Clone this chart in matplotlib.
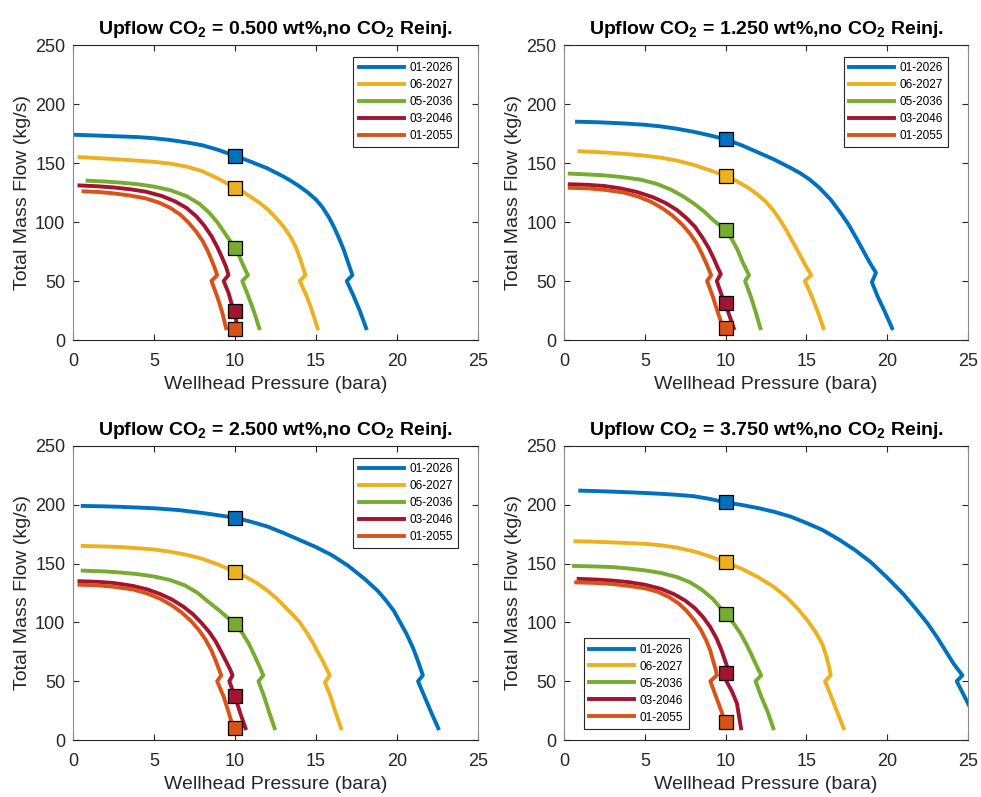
import matplotlib.pyplot as plt
import numpy as np

plt.rcParams["font.family"] = ["Liberation Sans", "DejaVu Sans"]
plt.rcParams["mathtext.fontset"] = "custom"
plt.rcParams["mathtext.rm"] = "Liberation Sans"
plt.rcParams["mathtext.bf"] = "Liberation Sans:bold"

dates = ["01-2026", "06-2027", "05-2036", "03-2046", "01-2055"]
colors = ["#0072BD", "#EDB120", "#77AC30", "#A2142F", "#D95319"]
co2_levels = ["0.500", "1.250", "2.500", "3.750"]

# deliverability curves: (wellhead pressure bara, total mass flow kg/s)
curves_0500 = [
    [(0, 174), (2, 173), (4, 172), (5, 171), (6, 169.5), (7, 167.5), (8, 165), (9, 161),
     (10, 156), (11, 151), (12, 145.5), (12.5, 142), (13, 138.5), (13.5, 134.5), (14, 130),
     (14.5, 125), (15, 119), (15.4, 112.5), (15.8, 104), (16.1, 96), (16.4, 87), (16.7, 77),
     (16.95, 67), (17.25, 55), (16.9, 50), (17.3, 38), (17.7, 25), (18.1, 10)],
    [(0.4, 155), (2, 153.8), (4, 152), (5, 151), (6, 149.5), (7, 147), (8, 143), (9, 136.5),
     (10, 129), (10.5, 125.5), (11, 121), (11.5, 116.5), (12, 111), (12.5, 104), (13, 96),
     (13.4, 88), (13.75, 79), (14.05, 68), (14.35, 55), (14.0, 50), (14.4, 38), (14.75, 25),
     (15.1, 10)],
    [(0.9, 135), (2, 134.3), (3, 133.3), (4, 132), (5, 130), (6, 127), (7, 122), (7.8, 115.5),
     (8.4, 108), (8.9, 100), (9.3, 92), (9.65, 85), (10, 78), (10.3, 70), (10.55, 62),
     (10.8, 55), (10.45, 50), (10.8, 38), (11.15, 25), (11.5, 10)],
    [(0.4, 131), (1.5, 130.3), (2.5, 129.3), (3.5, 127.8), (4.5, 125.7), (5.5, 122),
     (6.3, 117.5), (7, 112), (7.6, 105), (8.1, 97), (8.55, 88), (8.9, 79), (9.2, 70),
     (9.45, 62), (9.6, 55), (9.3, 50), (9.6, 40), (9.85, 28), (10.2, 10)],
    [(0.65, 126), (1.5, 125.5), (2.5, 124.3), (3.5, 122.5), (4.5, 120), (5.3, 116.5), (6, 112),
     (6.6, 106.5), (7.1, 100), (7.6, 92), (8, 84), (8.3, 76), (8.55, 68), (8.75, 61),
     (8.9, 55), (8.55, 50), (8.9, 37), (9.2, 24), (9.45, 10)],
]
curves_1250 = [
    [(0.8, 185), (2, 184.6), (3, 184), (4, 183.3), (5, 182.4), (6, 181), (7, 179), (8, 176.5),
     (9, 173.5), (10, 170), (11, 165), (12, 159), (13, 153), (14, 146), (14.6, 141.5),
     (15.2, 136), (15.8, 129), (16.5, 119), (17.1, 108), (17.6, 98), (18.1, 86), (18.5, 76),
     (18.9, 66), (19.3, 57), (19.05, 49), (19.4, 37), (19.85, 24), (20.3, 10)],
    [(0.95, 160), (2, 159.3), (3, 158.5), (4, 157.5), (5, 156.2), (6, 154.5), (7, 152),
     (8, 148.5), (9, 144), (10, 139), (10.7, 134.5), (11.4, 129), (12, 123), (12.5, 117),
     (13, 109), (13.4, 101), (13.8, 92), (14.2, 82), (14.6, 72), (14.95, 63), (15.3, 55),
     (14.9, 50), (15.3, 38), (15.7, 24), (16.05, 10)],
    [(0.35, 141), (1.5, 140.3), (2.5, 139.5), (3.5, 138.2), (4.7, 136), (5.7, 132.5),
     (6.6, 127.5), (7.4, 121.5), (8.1, 115), (8.7, 108.5), (9.2, 102), (9.6, 97.5), (10, 93),
     (10.4, 85), (10.75, 76), (11.05, 66), (11.3, 59), (11.45, 55), (11.2, 50), (11.55, 37),
     (11.85, 24), (12.15, 10)],
    [(0.35, 132), (1.5, 131.5), (2.5, 130.5), (3.5, 128.5), (4.5, 125.5), (5.5, 121),
     (6.3, 116), (7, 110), (7.6, 103), (8.1, 96), (8.55, 87), (8.95, 78), (9.3, 68),
     (9.55, 60), (9.7, 56), (9.45, 50), (9.75, 38), (10.05, 28), (10.25, 20), (10.5, 10)],
    [(0.35, 129), (1.5, 128.5), (2.5, 127.3), (3.7, 125), (4.6, 121.5), (5.4, 117),
     (6.1, 111.5), (6.7, 105.5), (7.3, 98), (7.8, 90), (8.2, 82), (8.5, 74), (8.8, 65),
     (9.1, 55), (8.85, 50), (9.2, 37), (9.5, 24), (9.85, 10)],
]
curves_2500 = [
    [(0.6, 199), (2, 198.6), (3, 198.2), (4, 197.6), (5, 197), (6.5, 195.5), (8, 193),
     (9, 191), (10, 189), (11, 185.5), (12, 181.5), (13, 176), (14, 170), (15, 164), (16, 157),
     (17, 148), (18, 137), (18.8, 127), (19.3, 119), (19.8, 110), (20.2, 100), (20.6, 90),
     (21.0, 78), (21.3, 67), (21.6, 55), (21.3, 50), (21.7, 37), (22.1, 24), (22.55, 10)],
    [(0.6, 165), (2, 164.5), (3, 164), (4, 163), (5, 162), (6, 160), (7, 157.5), (8, 154),
     (9, 149), (10, 143), (10.7, 138.5), (11.4, 133), (12, 127), (12.6, 120), (13.1, 113),
     (13.6, 106), (14, 100), (14.4, 92), (14.8, 83), (15.15, 74), (15.5, 65), (15.85, 55),
     (15.55, 49), (15.9, 37), (16.2, 24), (16.55, 10)],
    [(0.6, 144), (2, 143.3), (3, 142.3), (4, 141), (5, 139), (6, 136), (6.9, 131.5),
     (7.7, 125), (8.4, 117), (9, 110.5), (9.5, 104.5), (10, 99), (10.45, 91), (10.85, 82),
     (11.2, 72), (11.5, 63), (11.75, 55), (11.45, 50), (11.8, 37), (12.1, 24), (12.45, 10)],
    [(0.4, 135), (1.5, 134.5), (2.5, 133.5), (3.7, 131), (4.6, 128), (5.4, 124), (6.1, 119.5),
     (6.8, 113.5), (7.4, 107), (7.9, 100), (8.4, 92), (8.8, 84), (9.15, 75), (9.45, 67),
     (9.7, 60), (9.85, 55), (9.65, 50), (10, 37), (10.3, 24), (10.65, 10)],
    [(0.4, 132), (1.5, 131.5), (2.5, 130.3), (3.7, 128), (4.6, 124.5), (5.4, 120),
     (6.1, 114.5), (6.7, 108.5), (7.3, 101), (7.8, 93), (8.2, 85), (8.55, 76), (8.85, 66),
     (9.15, 55), (8.9, 50), (9.3, 37), (9.6, 24), (9.9, 10)],
]
curves_3750 = [
    [(1, 212), (2, 211.6), (3, 211.1), (4, 210.6), (5, 210), (6, 209.3), (7, 208.4), (8, 207.3),
     (9, 205), (10, 202), (11, 199.8), (12, 197.2), (13, 194), (14, 190), (15, 184.5),
     (16, 178.5), (17, 170.5), (18, 161.5), (19, 151), (20, 138), (21, 124), (21.8, 111),
     (22.5, 99), (23.1, 87), (23.6, 76), (24.1, 65), (24.65, 55), (24.3, 50), (25, 31),
     (25.8, 10)],
    [(0.7, 169), (2, 168.5), (3, 168), (4, 167.4), (5, 166.8), (6, 165.5), (7, 163.5),
     (8, 160.5), (9, 156.2), (10, 151), (11, 145.5), (12, 138.5), (13, 130), (13.8, 121),
     (14.5, 111), (15.1, 101), (15.6, 91), (16, 81), (16.25, 70), (16.4, 62), (16.5, 55),
     (16.15, 50), (16.5, 38), (16.9, 24), (17.3, 10)],
    [(0.6, 148), (2, 147.5), (3, 147), (4, 145.8), (5, 144.2), (6, 142), (7, 138.5),
     (7.8, 134), (8.5, 128), (9.2, 120), (9.6, 113.5), (10, 107), (10.5, 99), (10.9, 91),
     (11.3, 81), (11.65, 71), (11.95, 62), (12.2, 55), (11.85, 50), (12.2, 37), (12.6, 24),
     (12.95, 10)],
    [(0.9, 137), (2, 136.4), (3, 135.5), (4, 134.2), (5, 132), (6, 128.5), (6.8, 124),
     (7.5, 118.5), (8.1, 112), (8.6, 104.5), (9.05, 96), (9.45, 86), (9.75, 76), (10, 66),
     (10.15, 60), (10.25, 55), (10.05, 50), (10.4, 41), (10.7, 31), (10.95, 10)],
    [(0.75, 134), (2, 133.5), (3, 132.6), (4, 131), (5, 129), (5.8, 126), (6.5, 121.5),
     (7.1, 116), (7.6, 109.5), (8.05, 102), (8.45, 94), (8.8, 84.5), (9.05, 76), (9.25, 66),
     (9.4, 59), (9.45, 55), (9.05, 50), (9.4, 37), (9.75, 24), (10.05, 10)],
]

# flow at the 10 bara operating point
design_p = 10
design_q_0500 = [156, 129, 78, 25, 9]
design_q_1250 = [170, 139, 93, 31, 10]
design_q_2500 = [189, 143, 99, 37, 10]
design_q_3750 = [202, 151, 107, 57, 15]

panels = [
    (curves_0500, design_q_0500, co2_levels[0], [0.0744, 0.5734, 0.4128, 0.3701], "upper right"),
    (curves_1250, design_q_1250, co2_levels[1], [0.5750, 0.5734, 0.4118, 0.3701], "upper right"),
    (curves_2500, design_q_2500, co2_levels[2], [0.0744, 0.0715, 0.4128, 0.3690], "upper right"),
    (curves_3750, design_q_3750, co2_levels[3], [0.5750, 0.0715, 0.4118, 0.3690], "lower left"),
]

fig = plt.figure(figsize=(9.81, 7.97), dpi=100)
dark = "#262626"

for curves, design_q, level, pos, legend_loc in panels:
    ax = fig.add_axes(pos)
    for pts, date, c in zip(curves, dates, colors):
        pts = np.array(pts)
        ax.plot(pts[:, 0], pts[:, 1], color=c, lw=2.8, label=date, solid_joinstyle="round")
    for q, c in zip(design_q, colors):
        ax.plot(design_p, q, "s", ms=10, mfc=c, mec="black", mew=0.9, zorder=5)

    ax.set_xlim(0, 25)
    ax.set_ylim(0, 250)
    ax.set_xticks([0, 5, 10, 15, 20, 25])
    ax.set_yticks([0, 50, 100, 150, 200, 250])
    ax.tick_params(direction="in", top=True, right=True, length=4, width=0.8,
                   labelsize=13, colors=dark)
    ax.tick_params(axis="x", pad=9.5)
    ax.tick_params(axis="y", pad=5.5)
    for side, s in ax.spines.items():
        s.set_color("#8c8c8c" if side in ("left", "right") else dark)
        s.set_linewidth(0.8)
    ax.set_xlabel("Wellhead Pressure (bara)", fontsize=14, color=dark, labelpad=4.5)
    ax.set_ylabel("Total Mass Flow (kg/s)", fontsize=14, color=dark, labelpad=3)
    ax.set_title(r"Upflow CO$_\mathbf{2}$ = " + level + r" wt%,no CO$_\mathbf{2}$ Reinj.",
                 fontsize=14, fontweight="bold", pad=8)

    if legend_loc == "upper right":
        anchor = (0.966, 0.98)
    else:
        anchor = (0.034, 0.018)
    leg = ax.legend(loc=legend_loc, bbox_to_anchor=anchor, fontsize=8.5, handlelength=3.8,
                    labelspacing=0.42, borderpad=0.45, handletextpad=0.5,
                    fancybox=False, framealpha=1, edgecolor=dark)
    leg.get_frame().set_linewidth(0.8)

fig.savefig("out.png", dpi=100)
